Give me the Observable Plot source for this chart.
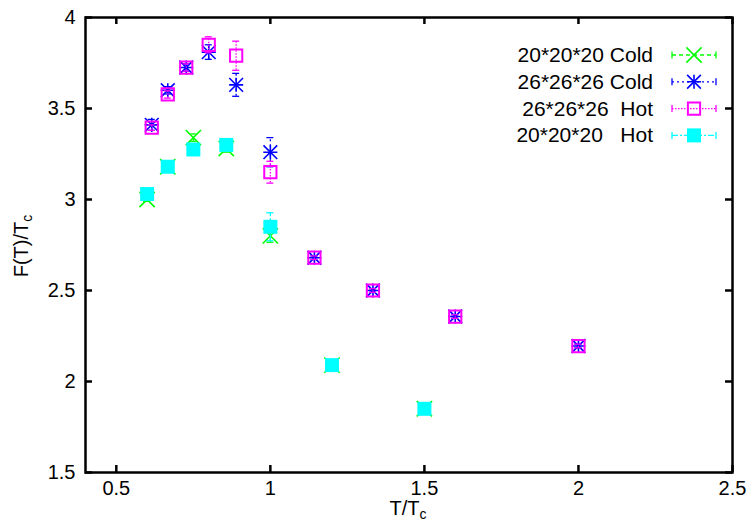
<!DOCTYPE html>
<html><head><meta charset="utf-8">
<script src="https://cdn.jsdelivr.net/npm/d3@7"></script>
<script src="https://cdn.jsdelivr.net/npm/@observablehq/plot@0.6"></script>
<style>
body{margin:0;background:#fff}
#chart{position:relative;width:753px;height:525px}
</style>
</head><body><div id="chart"></div>
<script>
// ---- data ----
const xTicks = [0.5, 1, 1.5, 2, 2.5];
const yTicks = [1.5, 2, 2.5, 3, 3.5, 4];

const tCold20 = [0.6, 0.667, 0.75, 0.857, 1.0, 1.2, 1.5];
const fCold20 = [3.0, 3.18, 3.34, 3.28, 2.80, 2.09, 1.85];
const eCold20 = [0.01, 0.01, 0.02, 0.02, 0.035, 0.01, 0.01];

const tCold26 = [0.615, 0.667, 0.727, 0.8, 0.889, 1.0, 1.143, 1.333, 1.6, 2.0];
const fCold26 = [3.41, 3.60, 3.725, 3.81, 3.63, 3.26, 2.68, 2.50, 2.357, 2.195];
const eCold26 = [0.03, 0.02, 0.02, 0.04, 0.063, 0.08, 0.01, 0.01, 0.01, 0.01];

const tHot26 = [0.615, 0.667, 0.727, 0.8, 0.889, 1.0, 1.143, 1.333, 1.6, 2.0];
const fHot26 = [3.395, 3.577, 3.725, 3.85, 3.79, 3.15, 2.68, 2.50, 2.357, 2.195];
const eHot26 = [0.015, 0.02, 0.02, 0.044, 0.08, 0.06, 0.01, 0.01, 0.01, 0.01];

const tHot20 = [0.6, 0.667, 0.75, 0.857, 1.0, 1.2, 1.5];
const fHot20 = [3.03, 3.18, 3.275, 3.30, 2.85, 2.09, 1.85];
const eHot20 = [0.01, 0.01, 0.01, 0.02, 0.077, 0.01, 0.01];

const seriesNames = ["20*20*20 Cold", "26*26*26 Cold", "26*26*26  Hot", "20*20*20   Hot"];
const seriesColors = ["#00ff00", "#0000ff", "#ff00ff", "#00ffff"];
const seriesDash = ["4,3", "2,3", "1.5,1.5", "6,2,2,2"];

// ---- tables ----
const toRows = (t, f, e) => t.map((x, i) => ({x, y: f[i], lo: f[i] - e[i], hi: f[i] + e[i]}));
const cold20 = toRows(tCold20, fCold20, eCold20);
const cold26 = toRows(tCold26, fCold26, eCold26);
const hot26 = toRows(tHot26, fHot26, eHot26);
const hot20 = toRows(tHot20, fHot20, eHot20);

const FONT = "'Liberation Sans', Arial, Helvetica, sans-serif";
const fmt = d => String(d);

function errMarks(rows, color, dash) {
  return [
    Plot.ruleX(rows, {x: "x", y1: "lo", y2: "hi", stroke: color, strokeWidth: 1.3, strokeDasharray: dash}),
    Plot.ruleY(rows, {x1: "x", x2: "x", y: "hi", stroke: color, strokeWidth: 1.3, insetLeft: -3.5, insetRight: -3.5}),
    Plot.ruleY(rows, {x1: "x", x2: "x", y: "lo", stroke: color, strokeWidth: 1.3, insetLeft: -3.5, insetRight: -3.5})
  ];
}

const plot = Plot.plot({
  width: 753, height: 525,
  marginLeft: 85, marginRight: 21, marginTop: 17, marginBottom: 53,
  style: {fontFamily: FONT, fontSize: "20px", color: "#000", background: "#fff", overflow: "visible"},
  x: {domain: [0.4, 2.5]},
  y: {domain: [1.5, 4]},
  marks: [
    Plot.axisX({ticks: xTicks, tickFormat: fmt, tickSize: 0, tickPadding: 8, label: null, fontSize: 20}),
    Plot.axisY({ticks: yTicks, tickFormat: fmt, tickSize: 0, tickPadding: 10, label: null, fontSize: 20}),
    // inward mirrored ticks
    Plot.ruleX(xTicks, {x: d => d, insetTop: 448, stroke: "#000", strokeWidth: 2.5}),
    Plot.ruleX(xTicks, {x: d => d, insetBottom: 448, stroke: "#000", strokeWidth: 2.5}),
    Plot.ruleY(yTicks, {y: d => d, insetRight: 640, stroke: "#000", strokeWidth: 2.5}),
    Plot.ruleY(yTicks, {y: d => d, insetLeft: 640, stroke: "#000", strokeWidth: 2.5}),
    // series 1: 20^3 cold
    ...errMarks(cold20, seriesColors[0], seriesDash[0]),
    Plot.dot(cold20, {x: "x", y: "y", symbol: "times", r: 7, stroke: seriesColors[0], strokeWidth: 1.6}),
    // series 2: 26^3 cold
    ...errMarks(cold26, seriesColors[1], seriesDash[1]),
    Plot.dot(cold26, {x: "x", y: "y", symbol: "plus", r: 4.6, stroke: seriesColors[1], strokeWidth: 1.6}),
    Plot.dot(cold26, {x: "x", y: "y", symbol: "times", r: 6.3, stroke: seriesColors[1], strokeWidth: 1.6}),
    // series 3: 26^3 hot
    ...errMarks(hot26, seriesColors[2], seriesDash[2]),
    Plot.dot(hot26, {x: "x", y: "y", symbol: "square", r: 6.9, fill: "none", stroke: seriesColors[2], strokeWidth: 2}),
    // series 4: 20^3 hot
    ...errMarks(hot20, seriesColors[3], seriesDash[3]),
    Plot.dot(hot20, {x: "x", y: "y", symbol: "square", r: 7.9, fill: seriesColors[3], stroke: "none"}),
    Plot.frame({stroke: "#000", strokeWidth: 2.5})
  ]
});

document.getElementById("chart").appendChild(plot);

// ---- axis labels with subscripts ----
const svg = d3.select(plot);
const xl = svg.append("text").attr("x", 408).attr("y", 515).attr("text-anchor", "middle")
  .attr("font-family", FONT).attr("font-size", 20).attr("fill", "#000");
xl.append("tspan").text("T/T");
xl.append("tspan").attr("font-size", 14).attr("dy", 4).text("c");

const yl = svg.append("text").attr("transform", "translate(28,246) rotate(-90)").attr("text-anchor", "middle")
  .attr("font-family", FONT).attr("font-size", 20).attr("fill", "#000");
yl.append("tspan").text("F(T)/T");
yl.append("tspan").attr("font-size", 14).attr("dy", 4).text("c");

// ---- legend ----
const symDefs = [
  [{type: d3.symbolTimes, r: 7, fill: "none", sw: 1.6}],
  [{type: d3.symbolPlus, r: 4.6, fill: "none", sw: 1.6}, {type: d3.symbolTimes, r: 6.3, fill: "none", sw: 1.6}],
  [{type: d3.symbolSquare, r: 6.9, fill: "none", sw: 2}],
  [{type: d3.symbolSquare, r: 7.9, fill: "fill", sw: 0}]
];
const lg = svg.append("g").attr("font-family", FONT).attr("font-size", 21);
seriesNames.forEach((name, i) => {
  const cy = 55 + i * 26.8;
  const color = seriesColors[i];
  lg.append("text").attr("x", 653).attr("y", cy + 7).attr("text-anchor", "end")
    .attr("xml:space", "preserve").style("white-space", "pre").attr("fill", "#000").text(name);
  lg.append("line").attr("x1", 672).attr("x2", 716).attr("y1", cy).attr("y2", cy)
    .attr("stroke", color).attr("stroke-width", 1.3).attr("stroke-dasharray", seriesDash[i]);
  [672, 716].forEach(xx => lg.append("line").attr("x1", xx).attr("x2", xx).attr("y1", cy - 3.5).attr("y2", cy + 3.5)
    .attr("stroke", color).attr("stroke-width", 1.3));
  symDefs[i].forEach(s => {
    lg.append("path").attr("transform", `translate(694,${cy})`)
      .attr("d", d3.symbol().type(s.type).size(Math.PI * s.r * s.r)())
      .attr("fill", s.fill === "fill" ? color : "none")
      .attr("stroke", s.sw ? color : "none").attr("stroke-width", s.sw);
  });
});
</script>
</body></html>
